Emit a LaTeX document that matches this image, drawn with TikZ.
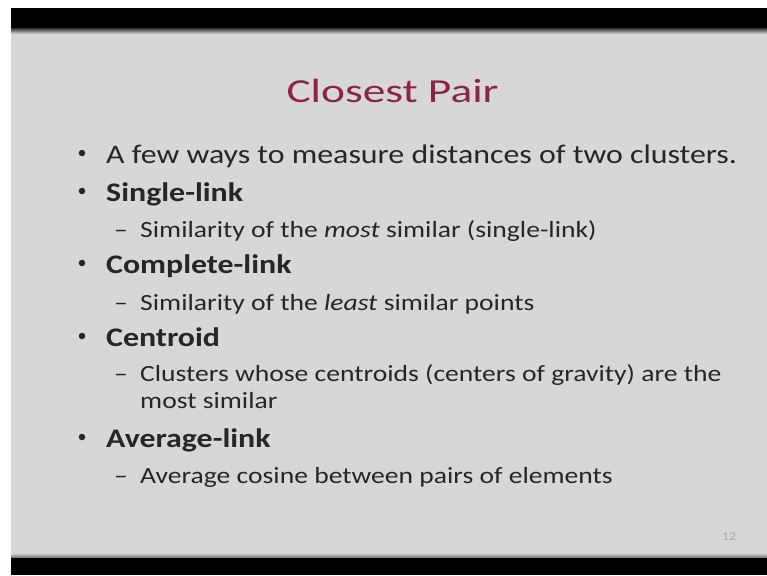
\documentclass[tikz,border=0pt]{standalone}
\usepackage{fontspec}
\setmainfont{Carlito}
\newfontfamily\slidefont{Carlito}[FakeStretch=1.19]
\newfontfamily\headfont{Carlito}[FakeStretch=1.35]
\definecolor{slidebg}{RGB}{215,215,215}
\definecolor{ink}{RGB}{38,38,38}
\definecolor{titlered}{RGB}{140,36,68}
\definecolor{pagenum}{RGB}{170,170,170}
\begin{document}
\begin{tikzpicture}[x=1pt,y=-1pt,
  lvlone/.style={anchor=base west, inner sep=0pt, text=ink,
    font=\slidefont\fontsize{26.8}{30}\selectfont},
  lvltwo/.style={anchor=base west, inner sep=0pt, text=ink,
    font=\slidefont\fontsize{23.2}{27}\selectfont},
  bulletmark/.style={circle, fill=ink, inner sep=0pt, minimum size=6.5pt},
  dashmark/.style={anchor=base west, inner sep=0pt, text=ink,
    font=\slidefont\fontsize{23.2}{27}\selectfont},
  slidetitle/.style={anchor=base, inner sep=0pt, text=titlered,
    font=\headfont\fontsize{33.6}{36}\selectfont}]
% page frame
\useasboundingbox (0,0) rectangle (767,575);
\fill[white] (0,0) rectangle (767,575);
\fill[slidebg] (11,29) rectangle (767,558);
\fill[black] (11,8) rectangle (767,29);
\shade[top color=black!70, bottom color=slidebg] (11,29) rectangle (767,34);
\shade[top color=slidebg, bottom color=black!60] (11,553) rectangle (767,558);
\fill[black] (11,558) rectangle (767,575);

% title
\node[slidetitle] (title) at (392.5,102.5) {Closest Pair};

% first-level items
\node[bulletmark] (b1) at (82,153) {};
\node[lvlone] (t1) at (106,163) {A few ways to measure distances of two clusters.};
\node[bulletmark] (b2) at (82,191) {};
\node[lvlone] (t2) at (106,201) {\textbf{Single-link}};
\node[bulletmark] (b3) at (82,263) {};
\node[lvlone] (t3) at (106,273) {\textbf{Complete-link}};
\node[bulletmark] (b4) at (82,336) {};
\node[lvlone] (t4) at (106,346) {\textbf{Centroid}};
\node[bulletmark] (b5) at (82,437) {};
\node[lvlone] (t5) at (106,447) {\textbf{Average-link}};

% second-level items
\node[dashmark] (d1) at (114,237) {–};
\node[lvltwo] (s1) at (140,237) {Similarity of the \textit{most} similar (single-link)};
\node[dashmark] (d2) at (114,310) {–};
\node[lvltwo] (s2) at (140,310) {Similarity of the \textit{least} similar points};
\node[dashmark] (d3) at (114,381) {–};
\node[lvltwo] (s3) at (140,381) {Clusters whose centroids (centers of gravity) are the};
\node[lvltwo] (s3b) at (140,408) {most similar};
\node[dashmark] (d4) at (114,483) {–};
\node[lvltwo] (s4) at (140,483) {Average cosine between pairs of elements};

% slide number
\node[text=pagenum, font=\slidefont\fontsize{12}{13}\selectfont] (num) at (729,537) {12};
\end{tikzpicture}
\end{document}
